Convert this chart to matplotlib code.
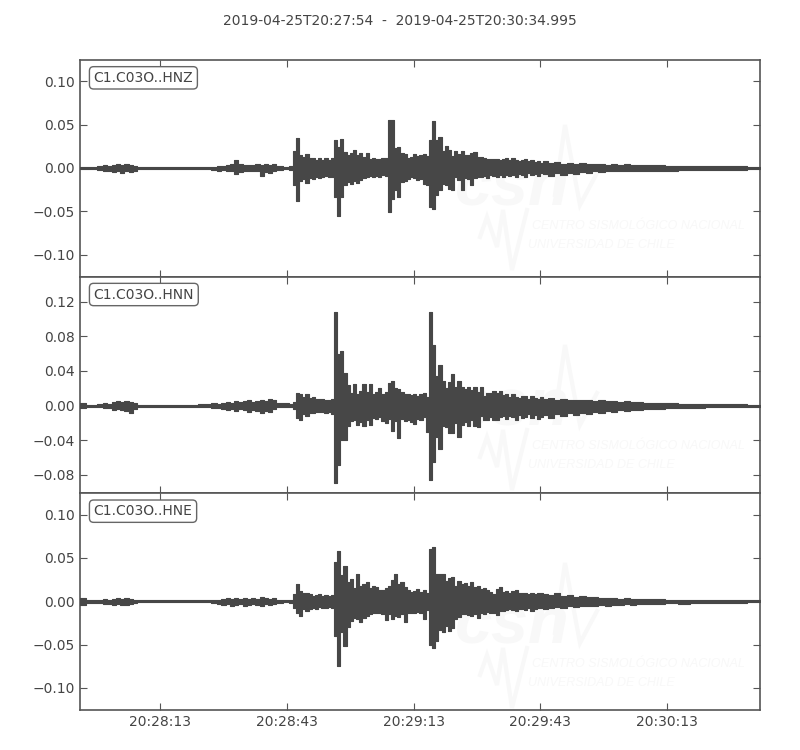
import numpy as np
import matplotlib
matplotlib.use('Agg')
import matplotlib.pyplot as plt

# envelope of each trace in units of 1e-3
# three time spans: before the first onset, main shaking, coda
t_pre = [0, 3, 5, 6, 7, 8, 9, 10, 11, 12, 13, 14, 18, 22, 26, 30, 32, 33, 34, 35, 36, 37, 38, 39, 40, 41, 42, 43, 44, 45, 46, 47, 49]
t_main = np.arange(80) * 0.75 + 50
t_post = [110, 111.5, 113, 114.5, 116, 117.5, 119, 120.5, 122, 123.5, 125, 126.5, 128, 129.5, 131, 132.5, 134, 137, 140, 143, 146, 150, 155, 161]

z_up = [1, 1, 2, 3, 2, 3, 4, 3, 4, 3, 2, 1, 1, 1, 1, 1, 1, 2, 2, 3, 4, 9, 4, 3, 3, 3, 4, 3, 5, 3, 4, 2, 1,
        2, 20, 35, 15, 13, 16, 11, 12, 9, 11,
        9, 11, 9, 12, 32, 24, 33, 18, 15, 17,
        21, 15, 17, 13, 17, 10, 11, 10, 10, 11,
        11, 55, 55, 23, 24, 17, 16, 12, 13, 16,
        14, 15, 16, 14, 32, 54, 32, 36, 20, 25,
        21, 14, 20, 16, 20, 15, 15, 17, 18, 13,
        13, 11, 10, 10, 10, 10, 9, 10, 11, 9,
        12, 9, 8, 9, 10, 8, 9, 7, 8, 6,
        8, 6, 7, 5, 6, 5, 6, 5, 4, 5, 3, 4, 3, 4, 3, 3, 3, 3, 2, 2, 2, 2, 2, 1]
z_lo = [-1, -1, -2, -3, -3, -5, -4, -6, -4, -5, -3, -1, -1, -1, -1, -1, -2, -3, -2, -4, -3, -7, -5, -4, -3, -3, -4, -9, -5, -6, -3, -2, -1,
        -2, -20, -38, -15, -13, -17, -12, -13, -10, -12,
        -10, -9, -11, -10, -33, -56, -33, -20, -16, -18,
        -15, -17, -14, -12, -11, -9, -10, -9, -10, -8,
        -9, -51, -36, -26, -33, -16, -15, -13, -11, -12,
        -14, -13, -18, -20, -45, -47, -31, -25, -19, -20,
        -24, -25, -11, -14, -26, -12, -13, -20, -12, -10,
        -11, -9, -12, -8, -9, -10, -8, -10, -8, -9,
        -8, -10, -7, -8, -10, -6, -8, -7, -9, -6,
        -7, -9, -6, -8, -6, -7, -5, -6, -4, -5, -4, -4, -3, -4, -3, -4, -3, -3, -3, -2, -2, -2, -2, -1]

n_up = [3, 1, 2, 3, 2, 4, 5, 4, 5, 4, 3, 1, 1, 1, 1, 2, 3, 2, 3, 4, 3, 5, 4, 5, 6, 4, 5, 7, 5, 8, 6, 3, 3,
        2, 4, 15, 14, 10, 13, 9, 10, 8, 8,
        8, 7, 7, 8, 108, 60, 63, 38, 24, 15,
        25, 14, 17, 25, 16, 25, 13, 16, 20, 14,
        16, 26, 29, 20, 19, 16, 13, 14, 12, 14,
        11, 13, 15, 10, 108, 70, 34, 47, 28, 20,
        27, 37, 22, 28, 22, 19, 22, 18, 21, 16,
        21, 11, 15, 15, 17, 15, 17, 12, 13, 10,
        14, 10, 9, 11, 11, 8, 11, 9, 8, 10,
        8, 9, 7, 8, 6, 7, 6, 6, 5, 6, 5, 5, 4, 5, 4, 4, 3, 3, 3, 2, 2, 2, 2, 1]
n_lo = [-3, -1, -2, -3, -3, -5, -4, -5, -6, -9, -4, -1, -1, -1, -1, -2, -3, -3, -4, -5, -4, -6, -4, -5, -7, -5, -6, -8, -6, -7, -4, -2, -1,
        -2, -4, -14, -16, -10, -12, -9, -8, -7, -7,
        -7, -8, -7, -10, -89, -68, -40, -40, -24, -18,
        -16, -22, -19, -24, -16, -22, -14, -15, -13, -18,
        -20, -15, -29, -18, -37, -15, -18, -16, -19, -21,
        -15, -17, -13, -30, -86, -65, -36, -50, -24, -25,
        -32, -32, -20, -36, -22, -19, -24, -17, -24, -25,
        -12, -16, -17, -13, -16, -17, -13, -12, -15, -12,
        -13, -16, -11, -14, -13, -10, -14, -11, -15, -13,
        -11, -14, -10, -12, -9, -11, -8, -10, -7, -8, -6, -7, -5, -6, -5, -5, -4, -4, -3, -3, -3, -2, -2, -1]

e_up = [4, 2, 2, 3, 2, 3, 4, 3, 4, 3, 2, 1, 1, 1, 1, 1, 2, 2, 3, 4, 3, 4, 3, 4, 3, 4, 3, 5, 4, 3, 4, 2, 1,
        2, 8, 20, 12, 9, 10, 8, 6, 7, 8,
        6, 7, 6, 7, 45, 58, 30, 41, 22, 26,
        15, 32, 18, 20, 22, 15, 18, 16, 13, 13,
        15, 18, 25, 31, 20, 22, 17, 13, 11, 12,
        14, 11, 13, 10, 60, 63, 32, 31, 31, 23,
        27, 28, 18, 23, 20, 21, 18, 22, 17, 18,
        14, 15, 13, 11, 8, 14, 16, 11, 12, 10,
        12, 13, 9, 10, 9, 8, 10, 8, 10, 9,
        8, 7, 9, 6, 7, 5, 6, 5, 5, 4, 4, 4, 3, 4, 3, 3, 3, 3, 2, 2, 2, 2, 2, 1]
e_lo = [-4, -2, -2, -3, -3, -4, -3, -4, -4, -3, -2, -1, -1, -1, -1, -1, -2, -3, -4, -3, -5, -4, -3, -5, -4, -3, -4, -5, -3, -4, -3, -2, -1,
        -2, -8, -14, -17, -9, -11, -9, -8, -9, -7,
        -8, -8, -7, -8, -40, -75, -35, -52, -30, -23,
        -19, -21, -24, -19, -17, -15, -14, -13, -14, -15,
        -22, -15, -21, -17, -18, -15, -24, -14, -13, -14,
        -12, -13, -21, -10, -50, -54, -46, -33, -36, -28,
        -34, -31, -21, -18, -15, -15, -16, -17, -15, -19,
        -14, -15, -12, -13, -13, -16, -11, -11, -10, -9,
        -10, -11, -9, -9, -10, -8, -11, -9, -8, -8,
        -9, -8, -7, -8, -6, -7, -5, -6, -5, -4, -5, -4, -4, -3, -4, -3, -3, -3, -2, -3, -2, -2, -2, -1]

labels = ['C1.C03O..HNZ', 'C1.C03O..HNN', 'C1.C03O..HNE']
ylims = [(-0.1255, 0.1245), (-0.1012, 0.1488), (-0.1255, 0.1245)]
yticks = [[-0.10, -0.05, 0.00, 0.05, 0.10],
          [-0.08, -0.04, 0.00, 0.04, 0.08, 0.12],
          [-0.10, -0.05, 0.00, 0.05, 0.10]]
xtick_pos = [19, 49, 79, 109, 139]
xtick_labels = ['20:28:13', '20:28:43', '20:29:13', '20:29:43', '20:30:13']
title = '2019-04-25T20:27:54  -  2019-04-25T20:30:34.995'
duration = 160.995

traces = [(z_up, z_lo), (n_up, n_lo), (e_up, e_lo)]
t = np.concatenate([t_pre, t_main, t_post])
wave_color = '#474747'
text_color = '#444444'
mark_color = '#f8f8f8'
mark_font = 'Liberation Sans'


def watermark(fig, ax, dy):
    # faint logo behind the trace, placed in figure pixels
    tr = lambda x, y: (x / 800, 1 - (y + dy) / 750)
    kw = dict(transform=fig.transFigure, color=mark_color, zorder=1, clip_on=True)
    ax.text(*tr(455, 205), 'csn', fontsize=48, style='italic', weight='bold', family=mark_font, **kw)
    ax.text(*tr(532, 229), 'CENTRO SISMOLÓGICO NACIONAL', fontsize=9, style='italic', family=mark_font, **kw)
    ax.text(*tr(528, 248), 'UNIVERSIDAD DE CHILE', fontsize=9, style='italic', family=mark_font, **kw)
    for px, py, w in [((555, 565, 580, 597), (195, 125, 205, 173), 3),
                      ((480, 487, 497, 503, 512, 527), (237, 217, 247, 210, 270, 210), 3)]:
        xy = [tr(a, b) for a, b in zip(px, py)]
        ax.plot([p[0] for p in xy], [p[1] for p in xy], lw=w, solid_joinstyle='miter', **kw)


fig, axes = plt.subplots(3, 1, figsize=(8, 7.5), dpi=100, sharex=True)
fig.subplots_adjust(left=0.1, right=0.95, top=0.92, bottom=0.0533, hspace=0)

for i, ax in enumerate(axes):
    up, lo = traces[i]
    ax.fill_between(t, np.array(lo) * 1e-3, np.array(up) * 1e-3, step='mid', color=wave_color, lw=0.8, zorder=3)
    watermark(fig, ax, [0, 220, 438][i])
    ax.set_xlim(0, duration)
    ax.set_ylim(*ylims[i])
    ax.set_yticks(yticks[i])
    ax.set_yticklabels(['%.2f' % v if v >= 0 else '\u2212%.2f' % -v for v in yticks[i]])
    ax.tick_params(direction='in', top=True, right=True, length=5, width=0.8, color='#555555',
                   labelcolor=text_color, labelsize=10)
    for s in ax.spines.values():
        s.set_color('#555555')
        s.set_linewidth(1.2)
    ax.text(0.02, 0.95, labels[i], transform=ax.transAxes, va='top', ha='left', fontsize=10, color=text_color,
            zorder=5, bbox=dict(boxstyle='round,pad=0.3', fc='white', ec='#666666', lw=1))

axes[-1].set_xticks(xtick_pos)
axes[-1].set_xticklabels(xtick_labels)
fig.text(0.5, 0.972, title, ha='center', va='center', fontsize=10, color=text_color)
fig.savefig('out.png', dpi=100)
